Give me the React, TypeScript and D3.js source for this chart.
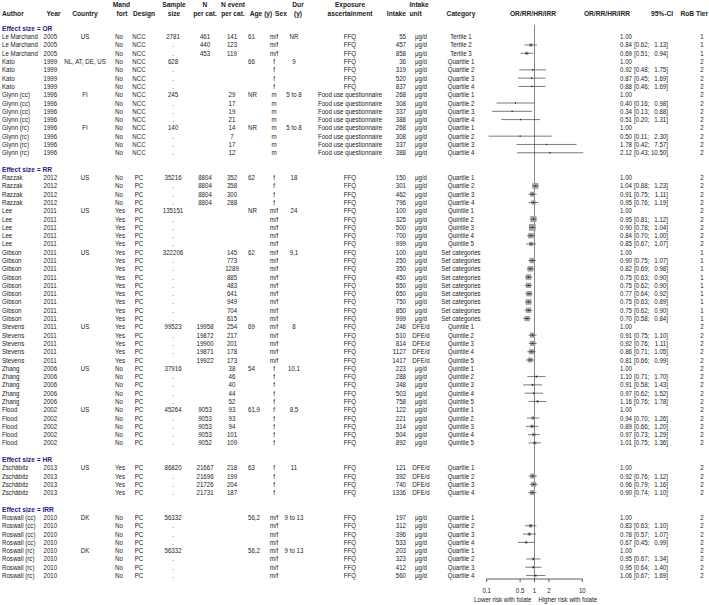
import React from 'react';
import * as d3 from 'd3';

const groupLabels = ['OR', 'RR', 'HR', 'IRR'];
const groupSizes = [15, 33, 4, 8];

const authors = [
  'Le Marchand', 'Le Marchand', 'Le Marchand',
  'Kato', 'Kato', 'Kato', 'Kato',
  'Glynn (cc)', 'Glynn (cc)', 'Glynn (cc)', 'Glynn (cc)',
  'Glynn (rc)', 'Glynn (rc)', 'Glynn (rc)', 'Glynn (rc)',
  'Razzak', 'Razzak', 'Razzak', 'Razzak',
  'Lee', 'Lee', 'Lee', 'Lee', 'Lee',
  'Gibson', 'Gibson', 'Gibson', 'Gibson', 'Gibson', 'Gibson', 'Gibson', 'Gibson', 'Gibson',
  'Stevens', 'Stevens', 'Stevens', 'Stevens', 'Stevens',
  'Zhang', 'Zhang', 'Zhang', 'Zhang', 'Zhang',
  'Flood', 'Flood', 'Flood', 'Flood', 'Flood',
  'Zschäbitz', 'Zschäbitz', 'Zschäbitz', 'Zschäbitz',
  'Roswall (cc)', 'Roswall (cc)', 'Roswall (cc)', 'Roswall (cc)',
  'Roswall (rc)', 'Roswall (rc)', 'Roswall (rc)', 'Roswall (rc)',
];
const years = [
  '2005', '2005', '2005',
  '1999', '1999', '1999', '1999',
  '1996', '1996', '1996', '1996',
  '1996', '1996', '1996', '1996',
  '2012', '2012', '2012', '2012',
  '2011', '2011', '2011', '2011', '2011',
  '2011', '2011', '2011', '2011', '2011', '2011', '2011', '2011', '2011',
  '2011', '2011', '2011', '2011', '2011',
  '2006', '2006', '2006', '2006', '2006',
  '2002', '2002', '2002', '2002', '2002',
  '2013', '2013', '2013', '2013',
  '2010', '2010', '2010', '2010',
  '2010', '2010', '2010', '2010',
];
const countries = [
  'US', '', '',
  'NL, AT, DE, US', '', '', '',
  'FI', '', '', '',
  'FI', '', '', '',
  'US', '', '', '',
  'US', '', '', '', '',
  'US', '', '', '', '', '', '', '', '',
  'US', '', '', '', '',
  'US', '', '', '', '',
  'US', '', '', '', '',
  'US', '', '', '',
  'DK', '', '', '',
  'DK', '', '', '',
];
const mandFort = [
  'No', 'No', 'No',
  'No', 'No', 'No', 'No',
  'No', 'No', 'No', 'No',
  'No', 'No', 'No', 'No',
  'No', 'No', 'No', 'No',
  'Yes', 'Yes', 'Yes', 'Yes', 'Yes',
  'Yes', 'Yes', 'Yes', 'Yes', 'Yes', 'Yes', 'Yes', 'Yes', 'Yes',
  'Yes', 'Yes', 'Yes', 'Yes', 'Yes',
  'No', 'No', 'No', 'No', 'No',
  'No', 'No', 'No', 'No', 'No',
  'Yes', 'Yes', 'Yes', 'Yes',
  'No', 'No', 'No', 'No',
  'No', 'No', 'No', 'No',
];
const designs = [
  'NCC', 'NCC', 'NCC',
  'NCC', 'NCC', 'NCC', 'NCC',
  'NCC', 'NCC', 'NCC', 'NCC',
  'NCC', 'NCC', 'NCC', 'NCC',
  'PC', 'PC', 'PC', 'PC',
  'PC', 'PC', 'PC', 'PC', 'PC',
  'PC', 'PC', 'PC', 'PC', 'PC', 'PC', 'PC', 'PC', 'PC',
  'PC', 'PC', 'PC', 'PC', 'PC',
  'PC', 'PC', 'PC', 'PC', 'PC',
  'PC', 'PC', 'PC', 'PC', 'PC',
  'PC', 'PC', 'PC', 'PC',
  'PC', 'PC', 'PC', 'PC',
  'PC', 'PC', 'PC', 'PC',
];
const sampleSizes = [
  '2781', '.', '.',
  '628', '.', '.', '.',
  '245', '.', '.', '.',
  '140', '.', '.', '.',
  '35216', '.', '.', '.',
  '135151', '.', '.', '.', '.',
  '322206', '.', '.', '.', '.', '.', '.', '.', '.',
  '99523', '.', '.', '.', '.',
  '37916', '.', '.', '.', '.',
  '45264', '.', '.', '.', '.',
  '86820', '.', '.', '.',
  '56332', '.', '.', '.',
  '56332', '.', '.', '.',
];
const nPerCat = [
  '461', '440', '453',
  '', '', '', '',
  '', '', '', '',
  '', '', '', '',
  '8804', '8804', '8804', '8804',
  '', '', '', '', '',
  '', '', '', '', '', '', '', '', '',
  '19958', '19872', '19900', '19871', '19922',
  '', '', '', '', '',
  '9053', '9053', '9053', '9053', '9052',
  '21667', '21696', '21726', '21731',
  '', '', '', '',
  '', '', '', '',
];
const nEvent = [
  '141', '123', '119',
  '', '', '', '',
  '29', '17', '19', '21',
  '14', '7', '17', '12',
  '352', '358', '300', '288',
  '', '', '', '', '',
  '145', '773', '1289', '885', '483', '641', '949', '704', '615',
  '254', '217', '201', '178', '173',
  '38', '46', '40', '44', '52',
  '93', '93', '94', '101', '109',
  '218', '199', '204', '187',
  '', '', '', '',
  '', '', '', '',
];
const ages = [
  '61', '', '',
  '66', '', '', '',
  'NR', '', '', '',
  'NR', '', '', '',
  '62', '', '', '',
  'NR', '', '', '', '',
  '62', '', '', '', '', '', '', '', '',
  '69', '', '', '', '',
  '54', '', '', '', '',
  '61,9', '', '', '', '',
  '63', '', '', '',
  '56,2', '', '', '',
  '56,2', '', '', '',
];
const sexes = [
  'm/f', 'm/f', 'm/f',
  'f', 'f', 'f', 'f',
  'm', 'm', 'm', 'm',
  'm', 'm', 'm', 'm',
  'f', 'f', 'f', 'f',
  'm/f', 'm/f', 'm/f', 'm/f', 'm/f',
  'm/f', 'm/f', 'm/f', 'm/f', 'm/f', 'm/f', 'm/f', 'm/f', 'm/f',
  'm/f', 'm/f', 'm/f', 'm/f', 'm/f',
  'f', 'f', 'f', 'f', 'f',
  'f', 'f', 'f', 'f', 'f',
  'f', 'f', 'f', 'f',
  'm/f', 'm/f', 'm/f', 'm/f',
  'm/f', 'm/f', 'm/f', 'm/f',
];
const durations = [
  'NR', '', '',
  '9', '', '', '',
  '5 to 8', '', '', '',
  '5 to 8', '', '', '',
  '18', '', '', '',
  '24', '', '', '', '',
  '9,1', '', '', '', '', '', '', '', '',
  '8', '', '', '', '',
  '10,1', '', '', '', '',
  '8,5', '', '', '', '',
  '11', '', '', '',
  '9 to 13', '', '', '',
  '9 to 13', '', '', '',
];
const FUQ = 'Food use questionnaire';
const exposures = [
  'FFQ', 'FFQ', 'FFQ',
  'FFQ', 'FFQ', 'FFQ', 'FFQ',
  FUQ, FUQ, FUQ, FUQ,
  FUQ, FUQ, FUQ, FUQ,
  'FFQ', 'FFQ', 'FFQ', 'FFQ',
  'FFQ', 'FFQ', 'FFQ', 'FFQ', 'FFQ',
  'FFQ', 'FFQ', 'FFQ', 'FFQ', 'FFQ', 'FFQ', 'FFQ', 'FFQ', 'FFQ',
  'FFQ', 'FFQ', 'FFQ', 'FFQ', 'FFQ',
  'FFQ', 'FFQ', 'FFQ', 'FFQ', 'FFQ',
  'FFQ', 'FFQ', 'FFQ', 'FFQ', 'FFQ',
  'FFQ', 'FFQ', 'FFQ', 'FFQ',
  'FFQ', 'FFQ', 'FFQ', 'FFQ',
  'FFQ', 'FFQ', 'FFQ', 'FFQ',
];
const intakes = [
  '55', '457', '858',
  '36', '319', '520', '837',
  '268', '308', '337', '388',
  '268', '308', '337', '388',
  '150', '301', '462', '796',
  '100', '325', '500', '700', '999',
  '100', '250', '350', '450', '550', '650', '750', '850', '999',
  '246', '510', '814', '1127', '1417',
  '223', '288', '348', '503', '758',
  '122', '221', '314', '504', '892',
  '121', '392', '740', '1336',
  '197', '312', '396', '533',
  '203', '323', '412', '560',
];
const U = 'μg/d';
const D = 'DFE/d';
const intakeUnits = [
  U, U, U,
  U, U, U, U,
  U, U, U, U,
  U, U, U, U,
  U, U, U, U,
  U, U, U, U, U,
  U, U, U, U, U, U, U, U, U,
  D, D, D, D, D,
  U, U, U, U, U,
  U, U, U, U, U,
  D, D, D, D,
  U, U, U, U,
  U, U, U, U,
];
const SC = 'Set categories';
const categories = [
  'Tertile 1', 'Tertile 2', 'Tertile 3',
  'Quartile 1', 'Quartile 2', 'Quartile 3', 'Quartile 4',
  'Quartile 1', 'Quartile 2', 'Quartile 3', 'Quartile 4',
  'Quartile 1', 'Quartile 2', 'Quartile 3', 'Quartile 4',
  'Quartile 1', 'Quartile 2', 'Quartile 3', 'Quartile 4',
  'Quintile 1', 'Quintile 2', 'Quintile 3', 'Quintile 4', 'Quintile 5',
  SC, SC, SC, SC, SC, SC, SC, SC, SC,
  'Quintile 1', 'Quintile 2', 'Quintile 3', 'Quintile 4', 'Quintile 5',
  'Quintile 1', 'Quintile 2', 'Quintile 3', 'Quintile 4', 'Quintile 5',
  'Quintile 1', 'Quintile 2', 'Quintile 3', 'Quintile 4', 'Quintile 5',
  'Quartile 1', 'Quartile 2', 'Quartile 3', 'Quartile 4',
  'Quartile 1', 'Quartile 2', 'Quartile 3', 'Quartile 4',
  'Quartile 1', 'Quartile 2', 'Quartile 3', 'Quartile 4',
];
const estimates = [
  1.00, 0.84, 0.69,
  1.00, 0.92, 0.87, 0.88,
  1.00, 0.40, 0.34, 0.51,
  1.00, 0.50, 1.78, 2.12,
  1.00, 1.04, 0.91, 0.95,
  1.00, 0.95, 0.90, 0.84, 0.85,
  1.00, 0.90, 0.82, 0.75, 0.75, 0.77, 0.75, 0.75, 0.70,
  1.00, 0.91, 0.92, 0.86, 0.81,
  1.00, 1.10, 0.91, 0.97, 1.16,
  1.00, 0.94, 0.89, 0.97, 1.01,
  1.00, 0.92, 0.96, 0.90,
  1.00, 0.83, 0.78, 0.67,
  1.00, 0.95, 0.95, 1.06,
];
const ciLower = [
  null, 0.62, 0.51,
  null, 0.48, 0.45, 0.46,
  null, 0.16, 0.13, 0.20,
  null, 0.11, 0.42, 0.43,
  null, 0.88, 0.75, 0.76,
  null, 0.81, 0.78, 0.70, 0.67,
  null, 0.75, 0.69, 0.63, 0.62, 0.64, 0.63, 0.62, 0.58,
  null, 0.75, 0.76, 0.71, 0.66,
  null, 0.71, 0.58, 0.62, 0.76,
  null, 0.70, 0.66, 0.73, 0.75,
  null, 0.76, 0.79, 0.74,
  null, 0.63, 0.57, 0.45,
  null, 0.67, 0.64, 0.67,
];
const ciUpper = [
  null, 1.13, 0.94,
  null, 1.75, 1.69, 1.69,
  null, 0.98, 0.88, 1.31,
  null, 2.30, 7.57, 10.50,
  null, 1.23, 1.11, 1.19,
  null, 1.12, 1.04, 1.00, 1.07,
  null, 1.07, 0.98, 0.90, 0.90, 0.92, 0.89, 0.90, 0.84,
  null, 1.10, 1.11, 1.05, 0.99,
  null, 1.70, 1.43, 1.52, 1.78,
  null, 1.26, 1.20, 1.29, 1.36,
  null, 1.12, 1.16, 1.10,
  null, 1.10, 1.07, 0.99,
  null, 1.34, 1.40, 1.69,
];
const robTier = [
  '1', '1', '1',
  '2', '2', '2', '2',
  '2', '2', '2', '2',
  '2', '2', '2', '2',
  '2', '2', '2', '2',
  '2', '2', '2', '2', '2',
  '1', '1', '1', '1', '1', '1', '1', '1', '1',
  '2', '2', '2', '2', '2',
  '2', '2', '2', '2', '2',
  '2', '2', '2', '2', '2',
  '2', '2', '2', '2',
  '2', '2', '2', '2',
  '2', '2', '2', '2',
];

const axisTicks = [0.1, 0.5, 1, 2, 10];
const axisTickLabels = ['0.1', '0.5', '1', '2', '10'];
const lowerLabel = 'Lower risk with folate';
const higherLabel = 'Higher risk with folate';

const FONT = "'Liberation Sans', Arial, Helvetica, sans-serif";
const FS = 7;
const SX = 0.88;
const TXT = '#222';

function T({ x, y, children, anchor = 'start', bold = false, fill = TXT, sx = SX }: any) {
  return (
    <text
      transform={`translate(${x},${y}) scale(${sx},1)`}
      textAnchor={anchor}
      fontWeight={bold ? 'bold' : 'normal'}
      fill={fill}
      fontSize={FS}
      fontFamily={FONT}
    >
      {children}
    </text>
  );
}

export default function App() {
  const W = 709;
  const H = 605;
  const x = d3.scaleLog().domain([0.1, 10]).range([486.7, 582.3]);
  const slotY = d3.scaleLinear().domain([0, 1]).range([28.4, 36.69]);
  const base = 2.5;

  const headerSlots: number[] = [];
  const rowSlots: number[] = [];
  let s = 0;
  groupSizes.forEach((n) => {
    headerSlots.push(s);
    s++;
    for (let i = 0; i < n; i++) {
      rowSlots.push(s);
      s++;
    }
    s++;
  });

  const ses = estimates.map((e, i) =>
    ciLower[i] == null ? null : (Math.log(ciUpper[i] as number) - Math.log(ciLower[i] as number)) / 3.92
  );
  const minSe = d3.min(ses.filter((v) => v != null) as number[]) as number;
  const boxSize = d3.scaleLinear().domain([0, 1 / minSe]).range([0, 6.8]);

  const cols: { vals: string[]; x: number; anchor: string }[] = [
    { vals: authors, x: 2, anchor: 'start' },
    { vals: years, x: 43.5, anchor: 'start' },
    { vals: countries, x: 85, anchor: 'middle' },
    { vals: mandFort, x: 115, anchor: 'start' },
    { vals: designs, x: 139, anchor: 'middle' },
    { vals: sampleSizes, x: 173, anchor: 'middle' },
    { vals: nPerCat, x: 205, anchor: 'middle' },
    { vals: nEvent, x: 232, anchor: 'middle' },
    { vals: ages, x: 248, anchor: 'start' },
    { vals: sexes, x: 274, anchor: 'middle' },
    { vals: durations, x: 294, anchor: 'middle' },
    { vals: exposures, x: 350, anchor: 'middle' },
    { vals: intakes, x: 406, anchor: 'end' },
    { vals: intakeUnits, x: 421, anchor: 'middle' },
    { vals: categories, x: 461, anchor: 'middle' },
  ];

  const h1 = 4.5 + base;
  const h2 = 13.3 + base;
  const HS = 0.95;
  const headers1 = [
    { t: 'Mand', x: 121.5, a: 'middle' },
    { t: 'Sample', x: 174, a: 'middle' },
    { t: 'N', x: 205, a: 'middle' },
    { t: 'N event', x: 233, a: 'middle' },
    { t: 'Dur', x: 298, a: 'middle' },
    { t: 'Exposure', x: 350, a: 'middle' },
    { t: 'Intake', x: 409.5, a: 'start' },
  ];
  const headers2 = [
    { t: 'Author', x: 2, a: 'start' },
    { t: 'Year', x: 53.5, a: 'middle' },
    { t: 'Country', x: 85, a: 'middle' },
    { t: 'fort', x: 122, a: 'middle' },
    { t: 'Design', x: 144, a: 'middle' },
    { t: 'size', x: 174, a: 'middle' },
    { t: 'per cat.', x: 205, a: 'middle' },
    { t: 'per cat.', x: 233, a: 'middle' },
    { t: 'Age (y)', x: 261, a: 'middle' },
    { t: 'Sex', x: 281, a: 'middle' },
    { t: '(y)', x: 298, a: 'middle' },
    { t: 'ascertainment', x: 350, a: 'middle' },
    { t: 'Intake', x: 406, a: 'end' },
    { t: 'unit', x: 409.5, a: 'start' },
    { t: 'Category', x: 461, a: 'middle' },
    { t: 'OR/RR/HR/IRR', x: 533, a: 'middle' },
    { t: 'OR/RR/HR/IRR', x: 630, a: 'end' },
    { t: '95%-CI', x: 662, a: 'middle' },
    { t: 'RoB Tier', x: 708, a: 'end' },
  ];

  const axisY = 579;
  const x1 = x(1);

  return (
    <svg
      width={W}
      height={H}
      viewBox={`0 0 ${W} ${H}`}
      style={{ position: 'absolute', left: 0, top: 0, background: '#fff' }}
    >
      <rect x={0} y={0} width={W} height={H} fill="#fff" />
      {headers1.map((h, i) => (
        <T key={'h1' + i} x={h.x} y={h1} anchor={h.a} bold sx={HS}>{h.t}</T>
      ))}
      {headers2.map((h, i) => (
        <T key={'h2' + i} x={h.x} y={h2} anchor={h.a} bold sx={HS}>{h.t}</T>
      ))}

      {groupLabels.map((g, i) => (
        <T key={'g' + i} x={2} y={slotY(headerSlots[i]) + base} bold fill="#22228c" sx={HS}>
          {`Effect size = ${g}`}
        </T>
      ))}

      {/* reference line */}
      <line x1={x1} x2={x1} y1={25} y2={axisY} stroke="#666" strokeWidth={0.8} />

      {rowSlots.map((slot, i) => {
        const cy = slotY(slot);
        const ty = cy + base;
        const lo = ciLower[i];
        const hi = ciUpper[i];
        const est = estimates[i];
        return (
          <g key={'r' + i}>
            {cols.map((c, j) =>
              c.vals[i] ? (
                <T key={j} x={c.x} y={ty} anchor={c.anchor}>{c.vals[i]}</T>
              ) : null
            )}
            <T x={632} y={ty} anchor="end">{est.toFixed(2)}</T>
            {lo != null && hi != null ? (
              <>
                <T x={634} y={ty} anchor="start">{`[${lo.toFixed(2)};`}</T>
                <T x={668} y={ty} anchor="end">{`${hi.toFixed(2)}]`}</T>
              </>
            ) : null}
            <T x={702} y={ty} anchor="middle">{robTier[i]}</T>
            {lo != null && hi != null ? (
              (() => {
                const bs = Math.max(1.2, boxSize(1 / (ses[i] as number)));
                return (
                  <g>
                    <rect
                      x={x(est) - bs / 2}
                      y={cy - bs / 2}
                      width={bs}
                      height={bs}
                      fill="#a0a0a0"
                    />
                    <line x1={x(lo)} x2={x(hi)} y1={cy} y2={cy} stroke="#333" strokeWidth={0.65} />
                    <rect x={x(est) - 0.5} y={cy - 0.6} width={1} height={1.2} fill="#111" />
                  </g>
                );
              })()
            ) : null}
          </g>
        );
      })}

      {/* axis */}
      <line x1={x(0.1)} x2={x(10)} y1={axisY} y2={axisY} stroke="#333" strokeWidth={0.8} />
      {axisTicks.map((t, i) => (
        <g key={'t' + i}>
          <line x1={x(t)} x2={x(t)} y1={axisY} y2={axisY + 3} stroke="#333" strokeWidth={0.8} />
          <T x={x(t)} y={592.5} anchor="middle">{axisTickLabels[i]}</T>
        </g>
      ))}
      <T x={531.5} y={601.8} anchor="end">{lowerLabel}</T>
      <T x={538.3} y={601.8} anchor="start">{higherLabel}</T>
    </svg>
  );
}
